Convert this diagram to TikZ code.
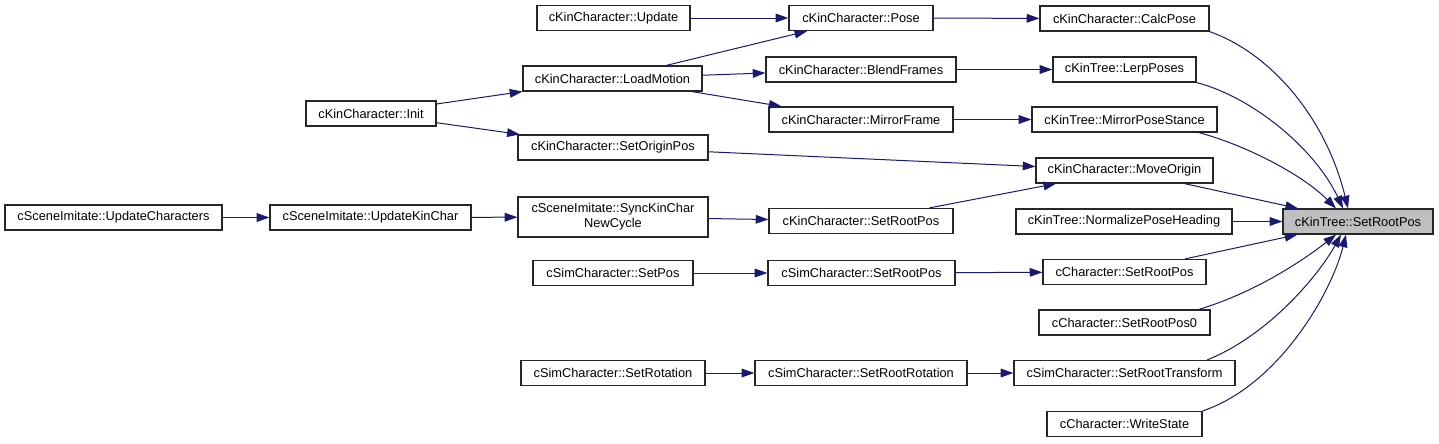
\documentclass[tikz,border=0pt]{standalone}
\usepackage{fontspec}
\setmainfont{Liberation Sans}
\usepackage{xcolor}
\usepackage{tikz}
\usetikzlibrary{arrows.meta,positioning,calc}
\definecolor{edgeblue}{HTML}{191970}
\definecolor{focusgray}{HTML}{BFBFBF}

\begin{document}
\begin{tikzpicture}[>={Triangle[length=9.5pt,width=6.5pt]},x=0.75pt,y=-0.75pt,
    func/.style={draw=black!85,fill=white,line width=0.9pt,inner sep=0pt,minimum height=18.75pt,
      minimum width={#1*0.75pt},font=\fontsize{9.6}{11.5}\selectfont,align=center},
    call/.style={draw=edgeblue,line width=0.75pt,->}]
  \useasboundingbox (0,0) rectangle (1439,443);
  \node[func=153] (upd) at (613.5,18) {cKinCharacter::Update};
  \node[func=144] (pose) at (861,18) {cKinCharacter::Pose};
  \node[func=169] (calc) at (1124.5,18.5) {cKinCharacter::CalcPose};
  \node[func=179] (load) at (612.5,78.5) {cKinCharacter::LoadMotion};
  \node[func=190] (blend) at (861,69.5) {cKinCharacter::BlendFrames};
  \node[func=143] (lerp) at (1124.5,69.5) {cKinTree::LerpPoses};
  \node[func=184] (mirf) at (861,119.5) {cKinCharacter::MirrorFrame};
  \node[func=185] (mirps) at (1124.5,119.5) {cKinTree::MirrorPoseStance};
  \node[func=130] (init) at (371,113.5) {cKinCharacter::Init};
  \node[func=190] (setorig) at (613,147.5) {cKinCharacter::SetOriginPos};
  \node[func=177] (move) at (1124.5,170.5) {cKinCharacter::MoveOrigin};
  \node[func=217] (updchars) at (113.5,217.5) {cSceneImitate::UpdateCharacters};
  \node[func=201] (updkin) at (370.5,217.5) {cSceneImitate::UpdateKinChar};
  \node[func=190,minimum height=30pt] (sync) at (613,217) {cSceneImitate::SyncKinChar\\NewCycle};
  \node[func=184] (kinroot) at (861,221) {cKinCharacter::SetRootPos};
  \node[func=216] (norm) at (1124,221.5) {cKinTree::NormalizePoseHeading};
  \node[func=150,fill=focusgray] (target) at (1358,221.5) {cKinTree::SetRootPos};
  \node[func=163] (charroot) at (1124.5,272) {cCharacter::SetRootPos};
  \node[func=160] (simsetpos) at (613,273) {cSimCharacter::SetPos};
  \node[func=187] (simroot) at (861.5,273) {cSimCharacter::SetRootPos};
  \node[func=171] (root0) at (1124.5,322.5) {cCharacter::SetRootPos0};
  \node[func=184] (setrot) at (613,373) {cSimCharacter::SetRotation};
  \node[func=212] (setrootrot) at (861,373) {cSimCharacter::SetRootRotation};
  \node[func=221] (transform) at (1124.5,373) {cSimCharacter::SetRootTransform};
  \node[func=155] (write) at (1124.5,424) {cCharacter::WriteState};
  % straight calls
  \draw[call] (upd) -- (pose);
  \draw[call] (load) -- (pose);
  \draw[call] (pose) -- (calc);
  \draw[call] (load) -- (blend);
  \draw[call] (load) -- (mirf);
  \draw[call] (blend) -- (lerp);
  \draw[call] (mirf) -- (mirps);
  \draw[call] (init) -- (load);
  \draw[call] (init) -- (setorig);
  \draw[call] (setorig) -- (move);
  \draw[call] (updchars) -- (updkin);
  \draw[call] (updkin) -- (sync);
  \draw[call] (sync) -- (kinroot);
  \draw[call] (kinroot) -- (move);
  \draw[call] (move) -- (target);
  \draw[call] (norm) -- (target);
  \draw[call] (simsetpos) -- (simroot);
  \draw[call] (simroot) -- (charroot);
  \draw[call] (charroot) -- (target);
  \draw[call] (setrot) -- (setrootrot);
  \draw[call] (setrootrot) -- (transform);
  % curved calls into the focus node
  \draw[call] (calc.south east) .. controls +(62,22) and +(-22,-90) .. ($(target.north)+(-10,0)$);
  \draw[call] (lerp.south east) .. controls +(55,14) and +(-28,-60) .. ($(target.north)+(-15,0)$);
  \draw[call] (mirps.-10) .. controls +(45,12) and +(-35,-35) .. ($(target.north)+(-22,0)$);
  \draw[call] (root0.10) .. controls +(60,-18) and +(-28,22) .. ($(target.south)+(-22,0)$);
  \draw[call] (transform.9) .. controls +(62,-25) and +(-22,40) .. ($(target.south)+(-17,0)$);
  \draw[call] (write.north east) .. controls +(75,-25) and +(-15,60) .. ($(target.south)+(-12,0)$);
\end{tikzpicture}
\end{document}
